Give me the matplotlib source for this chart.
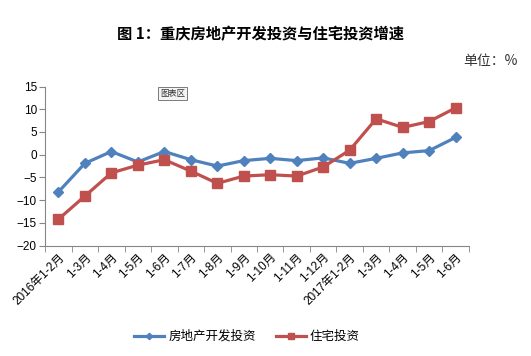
import matplotlib
matplotlib.use("Agg")
import matplotlib.pyplot as plt
import numpy as np

plt.rcParams['font.family'] = ['Liberation Sans', 'Noto Sans CJK SC', 'DejaVu Sans']

# 数据
months = ["2016年1-2月", "1-3月", "1-4月", "1-5月", "1-6月", "1-7月", "1-8月", "1-9月",
          "1-10月", "1-11月", "1-12月", "2017年1-2月", "1-3月", "1-4月", "1-5月", "1-6月"]
fdc_invest = [-8.2, -1.9, 0.7, -1.6, 0.7, -1.1, -2.5, -1.3, -0.8, -1.3, -0.7, -1.9, -0.8, 0.4, 0.9, 3.8]
zz_invest = [-14.2, -9.1, -4.0, -2.3, -1.1, -3.6, -6.3, -4.7, -4.4, -4.7, -2.7, 1.0, 7.9, 6.0, 7.3, 10.3]

blue = "#4F81BD"
red = "#C0504D"
axis_gray = "#868686"

fig = plt.figure(figsize=(5.31, 3.56), dpi=100)
ax = fig.add_axes([0.085, 0.31, 0.798, 0.447])

x = np.arange(len(months))
ax.plot(x, fdc_invest, color=blue, lw=2.3, marker="D", ms=5, label="房地产开发投资")
ax.plot(x, zz_invest, color=red, lw=2.3, marker="s", ms=6.5, label="住宅投资")

ax.set_xlim(-0.5, len(months) - 0.5)
ax.set_ylim(-20, 15)
ax.set_yticks(range(-20, 16, 5))
ax.set_xticks(x)
ax.set_xticklabels(months, rotation=45, ha="right", rotation_mode="anchor", fontsize=8.5)
ax.set_xticks(np.arange(-0.5, len(months)), minor=True)
ax.tick_params(axis="x", which="major", length=0, pad=4)
ax.tick_params(axis="x", which="minor", length=4, color=axis_gray, direction="out")
ax.tick_params(axis="y", length=4, color=axis_gray, labelsize=8.5, pad=2)

for s in ["top", "right"]:
    ax.spines[s].set_visible(False)
for s in ["left", "bottom"]:
    ax.spines[s].set_color(axis_gray)
    ax.spines[s].set_linewidth(0.8)

fig.text(0.49, 0.905, "图 1：重庆房地产开发投资与住宅投资增速", ha="center", va="center",
         fontsize=11, fontweight="bold", family=['Noto Sans CJK SC'])
fig.text(0.975, 0.83, "单位：%", ha="right", va="center", fontsize=10,
         family=['Noto Sans CJK SC'], color="#333333")

# 图表区 提示框
fig.text(0.325, 0.738, "图表区", ha="center", va="center", fontsize=6,
         family=['Noto Sans CJK SC'], color="#333333",
         bbox=dict(boxstyle="square,pad=0.25", fc="#f4f4f4", ec="#666666", lw=0.6))

leg = fig.legend(loc="center", bbox_to_anchor=(0.465, 0.055), ncol=2, frameon=False,
                 handlelength=2.4, columnspacing=1.6, handletextpad=0.3, markerscale=0.65,
                 prop={'family': ['Noto Sans CJK SC'], 'size': 9})

fig.savefig("out.png", dpi=100)
